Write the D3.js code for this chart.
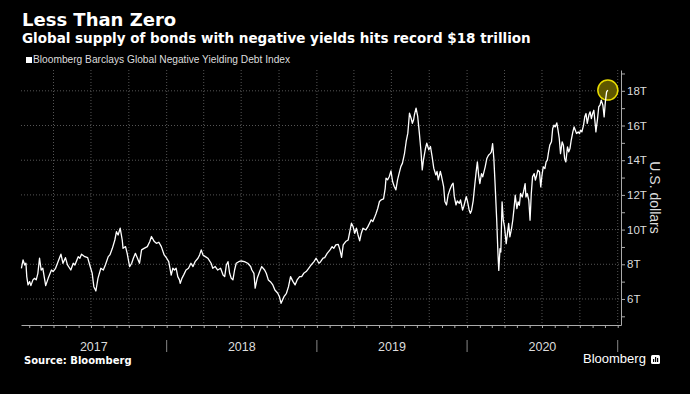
<!DOCTYPE html>
<meta charset="utf-8">
<body>
<script src="https://cdn.jsdelivr.net/npm/d3@7"></script>
<style>
    html, body {
        margin: 0;
        background: #000;
    }
    svg { display: block; }
    text { font-family: "Liberation Sans", sans-serif; }
</style>
<script>
// Bloomberg Barclays Global Negative Yielding Debt Index, trillions USD
var dates = [
    "2017-01-13","2017-01-17","2017-01-21","2017-01-24","2017-01-26","2017-01-29","2017-02-02","2017-02-05",
    "2017-02-10","2017-02-14","2017-02-18","2017-02-22","2017-02-26","2017-03-02","2017-03-06","2017-03-13",
    "2017-03-19","2017-03-27","2017-03-31","2017-04-06","2017-04-12","2017-04-19","2017-04-24","2017-04-30",
    "2017-05-05","2017-05-13","2017-05-19","2017-05-23","2017-05-31","2017-06-04","2017-06-08","2017-06-16",
    "2017-06-23","2017-06-28","2017-07-04","2017-07-08","2017-07-13","2017-07-18","2017-07-25","2017-07-31",
    "2017-08-05","2017-08-12","2017-08-16","2017-08-22","2017-08-28","2017-09-01","2017-09-05","2017-09-10",
    "2017-09-15","2017-09-17","2017-09-23","2017-09-27","2017-10-03","2017-10-08","2017-10-12","2017-10-17",
    "2017-10-22","2017-10-27","2017-11-01","2017-11-07","2017-11-15","2017-11-21","2017-11-25","2017-12-02",
    "2017-12-07","2017-12-13","2017-12-19","2017-12-26",
    "2018-01-01","2018-01-06","2018-01-12","2018-01-16","2018-01-20","2018-01-24","2018-01-28","2018-02-01",
    "2018-02-03","2018-02-07","2018-02-12","2018-02-17","2018-02-23","2018-03-01","2018-03-06","2018-03-11",
    "2018-03-18","2018-03-22","2018-03-26","2018-03-30","2018-04-05","2018-04-11","2018-04-19","2018-04-23",
    "2018-04-29","2018-05-05","2018-05-12","2018-05-18","2018-05-22","2018-05-26","2018-05-30","2018-06-03",
    "2018-06-07","2018-06-11","2018-06-15","2018-06-19","2018-06-25","2018-07-01","2018-07-09","2018-07-17",
    "2018-07-24","2018-07-27","2018-08-01","2018-08-04","2018-08-09","2018-08-15","2018-08-20","2018-08-27",
    "2018-08-31","2018-09-05","2018-09-10","2018-09-16","2018-09-21","2018-09-28","2018-10-02","2018-10-06",
    "2018-10-13","2018-10-19","2018-10-24","2018-10-29","2018-11-04","2018-11-09","2018-11-14","2018-11-20",
    "2018-11-25","2018-11-30","2018-12-06","2018-12-12","2018-12-18","2018-12-25","2018-12-30",
    "2019-01-06","2019-01-10","2019-01-16","2019-01-20","2019-01-26","2019-02-02","2019-02-07","2019-02-11",
    "2019-02-16","2019-02-22","2019-02-26","2019-03-02","2019-03-06","2019-03-12","2019-03-18","2019-03-22",
    "2019-03-26","2019-03-30","2019-04-03","2019-04-07","2019-04-11","2019-04-15","2019-04-19","2019-04-23",
    "2019-04-30","2019-05-05","2019-05-09","2019-05-13","2019-05-17","2019-05-21","2019-05-25","2019-05-29",
    "2019-06-02","2019-06-06","2019-06-12","2019-06-16","2019-06-18","2019-06-22","2019-06-26","2019-06-30",
    "2019-07-04","2019-07-08","2019-07-12","2019-07-16","2019-07-20","2019-07-24","2019-07-28","2019-08-02",
    "2019-08-06","2019-08-10","2019-08-14","2019-08-18","2019-08-21","2019-08-24","2019-08-26","2019-08-30",
    "2019-09-03","2019-09-07","2019-09-11","2019-09-14","2019-09-17","2019-09-22","2019-09-25","2019-09-30",
    "2019-10-04","2019-10-08","2019-10-12","2019-10-17","2019-10-20","2019-10-23","2019-10-28","2019-10-31",
    "2019-11-05","2019-11-08","2019-11-12","2019-11-16","2019-11-20","2019-11-25","2019-11-28","2019-12-01",
    "2019-12-05","2019-12-08","2019-12-13","2019-12-16","2019-12-21","2019-12-24","2019-12-27","2019-12-30",
    "2020-01-02","2020-01-06","2020-01-09","2020-01-12","2020-01-16","2020-01-20","2020-01-23","2020-01-26",
    "2020-01-29","2020-02-01","2020-02-05","2020-02-08","2020-02-11","2020-02-14","2020-02-18","2020-02-22",
    "2020-02-26","2020-02-29","2020-03-03","2020-03-06","2020-03-09","2020-03-13","2020-03-16","2020-03-18",
    "2020-03-21","2020-03-23","2020-03-26","2020-03-29","2020-04-01","2020-04-05","2020-04-08","2020-04-11",
    "2020-04-14","2020-04-18","2020-04-21","2020-04-24","2020-04-27","2020-05-01","2020-05-04","2020-05-07",
    "2020-05-10","2020-05-14","2020-05-17","2020-05-21","2020-05-23","2020-05-26","2020-05-30","2020-06-02",
    "2020-06-05","2020-06-08","2020-06-12","2020-06-15","2020-06-18","2020-06-21","2020-06-25","2020-06-28",
    "2020-07-01","2020-07-04","2020-07-08","2020-07-11","2020-07-14","2020-07-17","2020-07-20","2020-07-24",
    "2020-07-27","2020-07-30","2020-08-02","2020-08-06","2020-08-09","2020-08-12","2020-08-15","2020-08-19",
    "2020-08-22","2020-08-25","2020-08-28","2020-09-01","2020-09-04","2020-09-07","2020-09-10","2020-09-14",
    "2020-09-17","2020-09-20","2020-09-23","2020-09-27","2020-09-30","2020-10-03","2020-10-06","2020-10-10",
    "2020-10-13","2020-10-16","2020-10-19","2020-10-23","2020-10-26","2020-10-29","2020-11-01","2020-11-04",
    "2020-11-08","2020-11-09","2020-11-13","2020-11-16","2020-11-19","2020-11-22","2020-11-26","2020-11-29",
    "2020-12-02","2020-12-05","2020-12-08"
];

var values = [
    7.77,8.25,7.96,8.06,7.29,6.81,7.0,6.77,
    7.1,7.19,7.1,7.48,8.35,7.67,7.77,6.77,
    7.19,7.67,7.58,7.77,8.15,8.58,8.06,8.38,
    7.96,7.67,8.06,7.96,8.44,8.35,8.58,8.44,
    8.38,7.96,7.48,6.71,6.46,7.19,7.77,7.67,
    7.96,8.44,8.54,8.92,9.4,9.88,9.69,10.08,
    9.4,8.92,9.02,8.63,7.87,8.06,8.35,8.63,
    8.35,8.06,8.83,8.92,9.02,9.31,9.6,9.31,
    9.21,9.27,9.02,8.54,
    8.35,8.15,7.38,7.77,7.67,7.77,7.29,7.1,
    6.9,7.19,7.42,7.67,7.77,8.06,7.87,8.15,
    8.35,8.54,8.83,8.54,8.44,8.35,8.06,7.77,
    7.87,7.67,7.77,7.38,7.29,7.96,8.15,7.48,
    7.19,7.1,7.67,8.06,8.15,8.19,8.15,8.06,
    7.87,7.67,7.48,6.62,7.19,7.58,7.87,7.67,
    7.48,7.1,7.0,6.81,6.52,6.33,6.13,5.75,
    6.13,6.33,6.71,7.29,7.0,6.81,7.1,7.29,
    7.29,7.48,7.58,7.77,7.96,8.15,8.35,
    8.06,8.15,8.35,8.38,8.63,8.83,9.02,8.92,
    9.12,9.15,8.83,8.4,9.12,9.31,9.4,9.88,
    10.37,10.17,9.79,10.08,9.69,9.35,9.79,10.08,
    9.98,10.17,10.37,10.56,10.46,10.69,10.94,11.23,
    11.62,11.71,11.77,12.38,12.96,12.87,13.06,13.38,
    12.77,12.48,12.29,12.87,13.25,13.63,13.83,14.4,
    15.08,15.56,16.71,16.42,16.13,16.33,16.62,17.0,
    16.52,15.56,14.5,13.44,14.02,14.69,14.98,14.6,
    14.79,14.21,13.54,13.15,13.35,12.87,13.35,13.06,
    12.48,11.62,11.42,12.0,12.29,12.58,12.67,11.9,
    11.42,11.65,11.52,11.71,11.13,11.33,11.62,11.9,
    11.62,11.13,10.94,11.12,11.69,12.65,13.33,13.9,
    13.13,12.65,13.23,13.04,13.33,13.62,14.1,14.29,
    14.38,14.48,14.96,14.1,12.65,10.54,8.62,7.65,
    8.9,8.71,11.6,10.54,10.15,9.19,9.77,10.35,
    9.58,10.06,10.54,11.21,11.98,11.21,11.6,11.4,
    12.08,11.88,12.17,12.65,11.88,12.08,11.69,10.54,
    12.08,13.04,13.23,12.85,13.13,13.42,13.33,12.46,
    13.13,13.62,13.52,13.9,14.0,14.48,14.87,15.06,
    15.83,16.02,15.92,16.15,15.73,15.25,14.38,15.06,
    14.87,14.1,13.9,14.77,14.48,14.67,15.15,15.63,
    15.92,15.73,15.54,15.63,15.54,15.73,15.63,16.02,
    16.5,16.69,16.12,16.6,16.79,16.4,16.69,16.88,
    15.92,15.63,16.4,17.08,17.17,17.46,17.17,16.5,
    17.37,17.94,18.04
];

var yTicks = [6, 8, 10, 12, 14, 16, 18];
var years = [2017, 2018, 2019, 2020];

var width = 690, height = 394,
    plotLeft = 21, plotRight = 621, plotTop = 70, plotBottom = 325;

var svg = d3.select("body").append("svg")
    .attr("width", width)
    .attr("height", height)
    .style("background", "#000");

var parse = d3.timeParse("%Y-%m-%d");
var data = dates.map(function(d, i) { return {date: parse(d), value: values[i]}; });

var x = d3.scaleTime()
    .domain([new Date(2017, 0, 12), new Date(2021, 0, 9)])
    .range([plotLeft, plotRight]);

var y = d3.scaleLinear()
    .domain([4.5, 19.2])
    .range([plotBottom, plotTop]);

// titles
svg.append("text")
    .attr("x", 22).attr("y", 26)
    .style("font-family", "DejaVu Sans")
    .style("font-weight", "bold")
    .style("font-size", "18px")
    .attr("fill", "#fff")
    .text("Less Than Zero");

svg.append("text")
    .attr("x", 22).attr("y", 43)
    .style("font-family", "DejaVu Sans")
    .style("font-weight", "bold")
    .style("font-size", "13.5px")
    .attr("fill", "#fff")
    .text("Global supply of bonds with negative yields hits record $18 trillion");

// legend
svg.append("rect")
    .attr("x", 26).attr("y", 57)
    .attr("width", 6).attr("height", 6)
    .attr("fill", "#fff");

svg.append("text")
    .attr("x", 33).attr("y", 63)
    .style("font-size", "10.2px")
    .attr("fill", "#ddd")
    .text("Bloomberg Barclays Global Negative Yielding Debt Index");

// grid
svg.append("g").selectAll("line")
    .data(yTicks)
    .enter().append("line")
    .attr("x1", plotLeft).attr("x2", plotRight)
    .attr("y1", y).attr("y2", y)
    .attr("stroke", "#555")
    .attr("stroke-dasharray", "1,2");

svg.append("g").selectAll("line")
    .data(x.ticks(d3.timeMonth.every(3)))
    .enter().append("line")
    .attr("x1", x).attr("x2", x)
    .attr("y1", plotTop).attr("y2", plotBottom)
    .attr("stroke", "#555")
    .attr("stroke-dasharray", "1,2");

// y axis
var yAxis = svg.append("g")
    .attr("transform", "translate(" + plotRight + ",0)")
    .call(d3.axisRight(y)
        .tickValues(d3.range(5, 20))
        .tickSize(4)
        .tickSizeOuter(0)
        .tickPadding(2)
        .tickFormat(function(d) { return d % 2 === 0 ? d + "T" : ""; }));

yAxis.select(".domain").attr("stroke", "#aaa");
yAxis.selectAll(".tick line").attr("stroke", "#aaa");
yAxis.selectAll(".tick text")
    .attr("fill", "#ddd")
    .style("font-family", "Liberation Sans, sans-serif")
    .style("font-size", "11.5px");

svg.append("text")
    .attr("transform", "translate(655," + (plotTop + plotBottom) / 2 + ") rotate(90)")
    .attr("text-anchor", "middle")
    .attr("dy", "0.35em")
    .style("font-size", "14px")
    .attr("fill", "#ddd")
    .text("U.S. dollars");

// x axis
var xAxis = svg.append("g")
    .attr("transform", "translate(0," + plotBottom + ")")
    .call(d3.axisBottom(x)
        .ticks(d3.timeMonth.every(1))
        .tickSize(3)
        .tickSizeOuter(0)
        .tickFormat(""));

xAxis.select(".domain").attr("stroke", "#aaa");
xAxis.selectAll(".tick line").attr("stroke", "#aaa");

var yearStarts = years.concat([2021]).map(function(yr) { return new Date(yr, 0, 1); });

svg.append("g").selectAll("line")
    .data(yearStarts.slice(1))
    .enter().append("line")
    .attr("x1", x).attr("x2", x)
    .attr("y1", 340).attr("y2", 352)
    .attr("stroke", "#888");

svg.append("g").selectAll("text")
    .data(years)
    .enter().append("text")
    .attr("x", function(yr) {
        var a = Math.max(plotLeft, x(new Date(yr, 0, 1))),
            b = Math.min(plotRight, x(new Date(yr + 1, 0, 1)));
        return (a + b) / 2;
    })
    .attr("y", 351)
    .attr("text-anchor", "middle")
    .style("font-size", "12.5px")
    .attr("fill", "#ddd")
    .text(function(yr) { return yr; });

// record marker
var last = data[data.length - 1];
svg.append("circle")
    .attr("cx", x(last.date))
    .attr("cy", y(last.value))
    .attr("r", 10)
    .attr("fill", "#5e5700")
    .attr("stroke", "#e8dc00")
    .attr("stroke-width", 1.5);

// line
svg.append("path")
    .datum(data)
    .attr("fill", "none")
    .attr("stroke", "#fff")
    .attr("stroke-width", 1.3)
    .attr("stroke-linejoin", "round")
    .attr("d", d3.line()
        .x(function(d) { return x(d.date); })
        .y(function(d) { return y(d.value); }));

// footer
svg.append("text")
    .attr("x", 24).attr("y", 364)
    .style("font-family", "DejaVu Sans")
    .style("font-weight", "bold")
    .style("font-size", "10px")
    .attr("fill", "#fff")
    .text("Source: Bloomberg");

svg.append("text")
    .attr("x", 583).attr("y", 363)
    .style("font-size", "13px")
    .attr("fill", "#fff")
    .text("Bloomberg");

var logo = svg.append("g").attr("transform", "translate(651,355)");
logo.append("rect")
    .attr("width", 9).attr("height", 9).attr("rx", 1.5)
    .attr("fill", "#fff");
logo.selectAll(".bar")
    .data([3, 5, 4])
    .enter().append("rect")
    .attr("x", function(d, i) { return 2 + i * 2; })
    .attr("y", function(d) { return 7 - d; })
    .attr("width", 1.2)
    .attr("height", function(d) { return d; })
    .attr("fill", "#000");
</script>
